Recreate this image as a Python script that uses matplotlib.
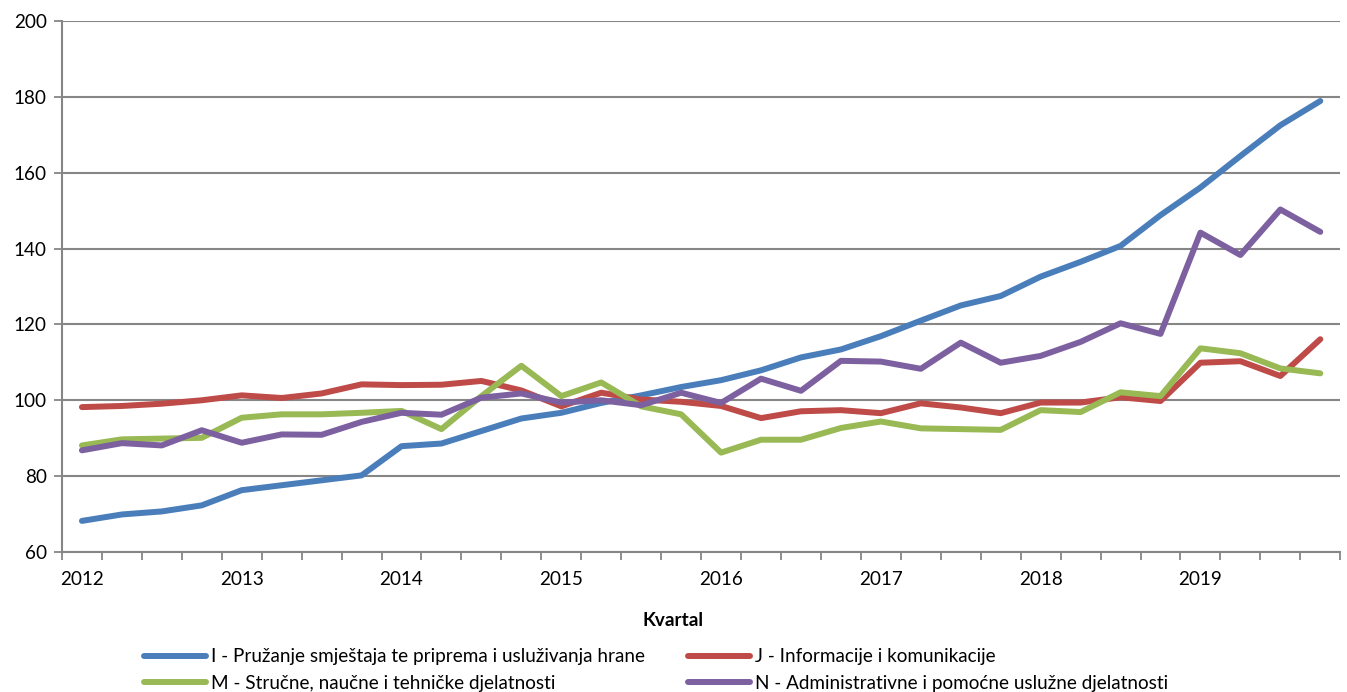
import numpy as np
import matplotlib
matplotlib.use("Agg")
import matplotlib.pyplot as plt
from matplotlib.ticker import FixedLocator

plt.rcParams['font.family'] = ['Lato', 'DejaVu Sans']

years = ["2012", "2013", "2014", "2015", "2016", "2017", "2018", "2019"]

# quarterly index values, 2012 Q1 .. 2019 Q4
sector_i = [68.2, 69.9, 70.7, 72.3, 76.3, 77.6, 78.9, 80.2, 87.9, 88.6, 91.9, 95.2,
            96.7, 99.3, 101.3, 103.5, 105.3, 107.9, 111.3, 113.4, 116.9, 121.0, 125.0, 127.5,
            132.6, 136.5, 140.7, 148.8, 156.1, 164.4, 172.5, 178.9]
sector_j = [98.2, 98.5, 99.1, 100.0, 101.3, 100.6, 101.8, 104.2, 104.0, 104.1, 105.1, 102.6,
            98.4, 102.0, 100.2, 99.6, 98.5, 95.3, 97.1, 97.4, 96.6, 99.2, 98.1, 96.6,
            99.4, 99.4, 100.8, 99.8, 109.9, 110.3, 106.4, 116.1]
sector_m = [88.1, 89.7, 89.9, 90.1, 95.4, 96.3, 96.3, 96.7, 97.2, 92.4, 101.1, 109.1,
            101.1, 104.7, 98.4, 96.3, 86.2, 89.6, 89.6, 92.7, 94.4, 92.6, 92.4, 92.2,
            97.4, 96.9, 102.1, 101.1, 113.7, 112.4, 108.4, 107.1]
sector_n = [86.8, 88.7, 88.1, 92.1, 88.8, 91.0, 90.9, 94.3, 96.7, 96.2, 100.7, 101.8,
            99.4, 100.0, 98.7, 102.0, 99.3, 105.7, 102.5, 110.4, 110.2, 108.3, 115.2, 109.9,
            111.7, 115.4, 120.3, 117.5, 144.2, 138.3, 150.3, 144.4]

labels = ["I - Pružanje smještaja te priprema i usluživanja hrane",
          "J - Informacije i komunikacije",
          "M - Stručne, naučne i tehničke djelatnosti",
          "N - Administrativne i pomoćne uslužne djelatnosti"]
colors = ["#4A7EBB", "#BE4B48", "#98B954", "#7D60A0"]

fig = plt.figure(figsize=(13.47, 6.92), dpi=100)
ax = fig.add_axes([0.046, 0.2023, 0.949, 0.7674])

x = np.arange(len(sector_i))
lines = []
for vals, lab, col in zip([sector_i, sector_j, sector_m, sector_n], labels, colors):
    ln, = ax.plot(x, vals, color=col, lw=4.3, label=lab, solid_capstyle='round', solid_joinstyle='round')
    lines.append(ln)

grid_col = "#868686"
fs = 13.6
ax.set_ylim(60, 200)
ax.set_yticks(np.arange(60, 201, 20))
ax.yaxis.grid(True, color=grid_col, lw=1.5)
ax.set_axisbelow(True)
ax.set_xlim(-0.5, len(x) - 0.5)
ax.set_xticks(np.arange(0, len(x), 4))
ax.set_xticklabels(years)
ax.xaxis.set_minor_locator(FixedLocator(np.arange(-0.5, len(x), 1)))
ax.tick_params(axis='x', which='major', length=0, pad=14, labelsize=fs)
ax.tick_params(axis='x', which='minor', length=6, color=grid_col, width=1.3)
ax.tick_params(axis='y', length=6, color=grid_col, width=1.3, labelsize=fs, pad=5)
for s in ['top', 'right']:
    ax.spines[s].set_visible(False)
for s in ['left', 'bottom']:
    ax.spines[s].set_color(grid_col)
    ax.spines[s].set_linewidth(1.5)

fig.text(0.5, 0.104, "Kvartal", ha='center', va='center', fontsize=fs, fontweight='bold')

# row-wise order: I, J / M, N
order = [0, 2, 1, 3]
fig.legend([lines[k] for k in order], [labels[k] for k in order],
           loc='upper left', bbox_to_anchor=(0.101, 0.074), ncol=2, frameon=False,
           fontsize=fs, handlelength=3.3, handletextpad=0.25, columnspacing=2.3,
           borderaxespad=0, labelspacing=0.5)

fig.savefig("out.png", dpi=100)
